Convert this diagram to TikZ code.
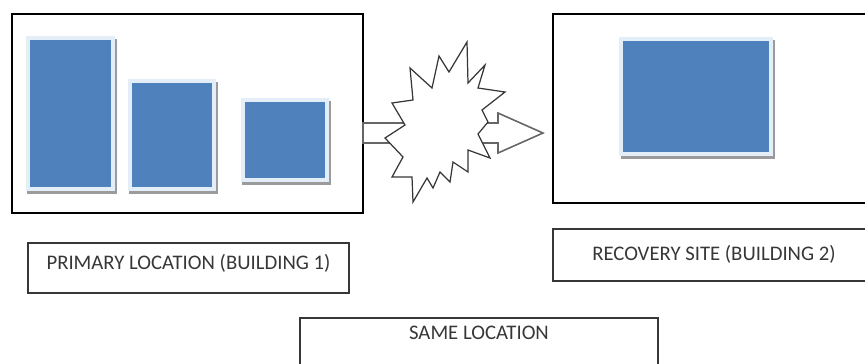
\documentclass[tikz,border=0pt]{standalone}
\usepackage{fontspec}
\setmainfont{Carlito}

\definecolor{panelblue}{RGB}{79,129,189}
\definecolor{panelrim}{RGB}{228,238,248}
\definecolor{panelshade}{RGB}{155,155,158}
\definecolor{inkgray}{RGB}{55,55,55}

\tikzset{
  site/.style={draw=black, line width=0.75pt, inner sep=0pt, outer sep=0pt},
  panel/.style={fill=panelblue, draw=panelrim, line width=2.3pt, inner sep=0pt, outer sep=0pt,
    preaction={fill=panelshade, draw=panelshade, transform canvas={shift={(0.03cm,-0.06cm)}}}},
  caption/.style={draw=inkgray, line width=0.7pt, text=inkgray, outer sep=0pt,
    font=\fontsize{11.8}{14}\selectfont, text height=7.6pt},
  blockarrow/.style={fill=white, draw=gray!80!black, line width=0.9pt, line join=miter},
  burst/.style={fill=white, draw=inkgray, line width=0.7pt, line join=miter}
}

\begin{document}
\begin{tikzpicture}[x=0.02cm, y=-0.02cm]
  \useasboundingbox (0,0) rectangle (865,363);

  \node[site, minimum width=7.02cm, minimum height=3.98cm] (primary) at (187.5,113.5) {};
  \node[panel, minimum width=1.70cm, minimum height=3.02cm] (rackA) at (70.5,113.5) {};
  \node[panel, minimum width=1.68cm, minimum height=2.16cm] (rackB) at (172,135) {};
  \node[panel, minimum width=1.68cm, minimum height=1.60cm] (rackC) at (285,140) {};

  \node[site, minimum width=6.44cm, minimum height=3.78cm] (recovery) at (714,108.5) {};
  \node[panel, minimum width=3.00cm, minimum height=2.30cm] (rackD) at (696,96.5) {};

  \coordinate (tip) at (543,133);
  \draw[blockarrow] (primary.east |- tip) ++(0,-10) -- ++(135,0) -- ++(0,-10) -- (tip)
    -- ++(-45,20) -- ++(0,-10) -- ++(-135,0) -- cycle;

  \draw[burst] (410,68) -- (432,88) -- (439,56) -- (449,72) -- (467,42) -- (468,83)
    -- (485,65) -- (478,88) -- (505,92) -- (482,110) -- (488,122) -- (478,134)
    -- (490,158) -- (468,150) -- (468,172) -- (453,162) -- (450,182) -- (440,172)
    -- (433,188) -- (427,178) -- (413,202) -- (412,177) -- (392,177) -- (403,157)
    -- (385,138) -- (405,125) -- (392,103) -- (413,100) -- cycle;

  \node[caption, minimum width=6.42cm, minimum height=1.00cm, text depth=6pt] (primarytag) at (188.5,268) {PRIMARY LOCATION (BUILDING 1)};
  \node[caption, minimum width=6.44cm, minimum height=1.04cm, text depth=1.7pt] (recoverytag) at (714,255) {RECOVERY SITE (BUILDING 2)};
  \node[caption, minimum width=7.16cm, minimum height=1.34cm, text depth=21.5pt] (sametag) at (479,351.5) {SAME LOCATION};
\end{tikzpicture}
\end{document}
